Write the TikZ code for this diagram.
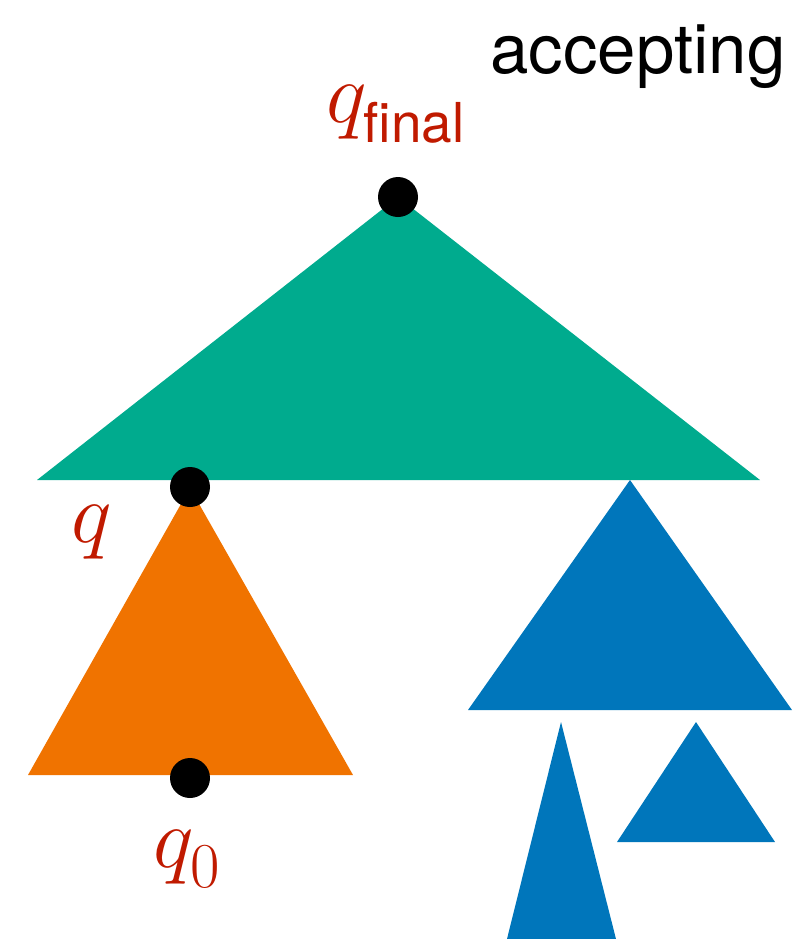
\documentclass[tikz,border=0pt]{standalone}
\usepackage{fix-cm}
\usepackage{amsmath}
\usepackage{fontspec}
\setsansfont{TeX Gyre Heros}
\definecolor{treegreen}{RGB}{0,171,142}
\definecolor{treeorange}{RGB}{240,115,0}
\definecolor{treeblue}{RGB}{0,118,187}
\definecolor{statered}{RGB}{192,26,0}
\newcommand{\lowsub}[2]{\raisebox{-4pt}{\fontsize{#1}{#1}\selectfont #2}}
\tikzset{
  state/.style={circle,fill=black,inner sep=0pt,minimum size=20pt},
  statelabel/.style={text=statered,inner sep=0pt,font=\fontsize{43}{50}\selectfont},
}

\begin{document}
\begin{tikzpicture}[x=0.5pt,y=-0.5pt]
  \useasboundingbox (0,0) rectangle (806,939);
  % trees
  \fill[treegreen] (398,197) -- (37,480) -- (760,480) -- cycle;
  \fill[treeorange] (190,488) -- (28,775) -- (353,775) -- cycle;
  \fill[treeblue] (630,480) -- (468,710) -- (792,710) -- cycle;
  \fill[treeblue] (561,722) -- (507,939) -- (616,939) -- cycle;
  \fill[treeblue] (696,722) -- (617,842) -- (775,842) -- cycle;
  % states
  \node[state] (qfinal) at (398,197) {};
  \node[state] (q) at (190,487) {};
  \node[state] (qzero) at (190,778) {};
  \node[statelabel,anchor=base west] (lfinal) at (326,122) {$q_{\lowsub{27.5}{\sffamily final}}$};
  \node[statelabel,anchor=base west] (lq) at (71,542) {$q$};
  \node[statelabel,anchor=base west] (lzero) at (153,867) {$q_{\lowsub{32}{0}}$};
  \node[anchor=base west,inner sep=0pt,font=\sffamily\fontsize{34.5}{41}\selectfont] (acc) at (490,73) {accepting};
\end{tikzpicture}
\end{document}
